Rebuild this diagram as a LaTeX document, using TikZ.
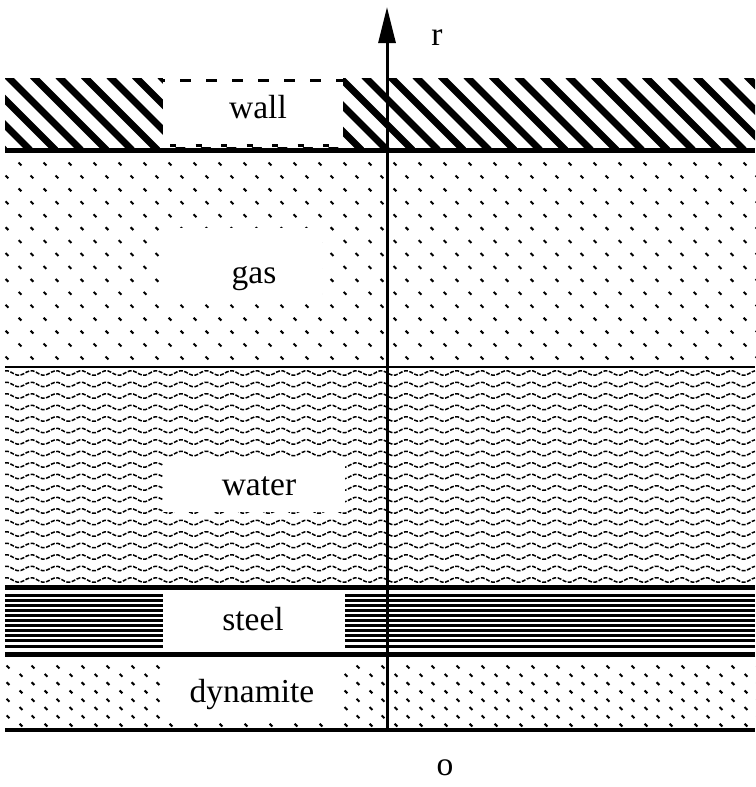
\documentclass[tikz,border=0pt]{standalone}
\usepackage{fontspec}
\setmainfont{Liberation Serif}
\usetikzlibrary{arrows.meta}
\tikzset{
  lbl/.style={anchor=base, inner sep=0pt, font=\fontsize{33.5}{40}\selectfont},
  hatch/.style={line width=7pt, line cap=butt},
  gdot/.style={line width=2pt},
  wave/.style={line width=1.5pt, dash pattern=on 4pt off 1.5pt},
  stripe/.style={line width=3pt},
  thickline/.style={line width=5pt},
  thinline/.style={line width=2pt},
  blank/.style={fill=white, draw=none},
  axis/.style={line width=3pt, -{Triangle[length=36pt,width=17pt]}}
}
\begin{document}
\begin{tikzpicture}[x=1pt,y=-1pt]
\useasboundingbox (0,0) rectangle (755,787);
% ---------- wall hatch
\begin{scope}
  \clip (5,78) rectangle (755,148);
  \foreach \k in {-4,...,30}{
    \draw[hatch] ({7+25.5*\k},76) -- ({7+25.5*\k+74},150);
  }
\end{scope}
\fill[blank] (163,76) rectangle (343,147);
\draw[line width=3pt, dash pattern=on 11pt off 15pt, dash phase=9pt] (163,80) -- (343,80);
\draw[line width=3pt, dash pattern=on 6pt off 19.5pt] (170,145) -- (343,145);
% ---------- gas dots
\foreach \j in {0,...,15}{
  \pgfmathsetmacro\yy{164+12.93*\j}
  \pgfmathtruncatemacro\odd{mod(\j,2)}
  \pgfmathsetmacro\xo{ifthenelse(\odd==1,7,20)}
  \foreach \k in {0,...,30}{
    \pgfmathsetmacro\xx{\xo+25*\k}
    \draw[gdot] (\xx-1.4,\yy-1.4) -- (\xx+1.4,\yy+1.4);
  }
}
\fill[blank] (165,228) rectangle (322,296);
% ---------- water waves
\begin{scope}
  \clip (5,369) rectangle (755,584);
  \foreach \j in {0,...,18}{
    \pgfmathsetmacro\yy{373+11.5*\j}
    \draw[wave] plot[domain=5:755, samples=241, smooth] (\x,{\yy-2.3*sin(14.4*\x)});
  }
\end{scope}
\fill[blank] (163,458) rectangle (345,512);
% ---------- steel stripes
\foreach \k in {0,...,10}{
  \draw[stripe] (5,{595+5.1*\k}) -- (755,{595+5.1*\k});
}
\fill[blank] (163,593) rectangle (345,651);
% ---------- dynamite dots
\foreach \j in {0,...,7}{
  \pgfmathsetmacro\yy{667+8.3*\j}
  \pgfmathtruncatemacro\odd{mod(\j,2)}
  \pgfmathsetmacro\xo{ifthenelse(\odd==1,21,8)}
  \foreach \k in {0,...,30}{
    \pgfmathsetmacro\xx{\xo+25*\k}
    \draw[gdot] (\xx-1.4,\yy-1.4) -- (\xx+1.4,\yy+1.4);
  }
}
\fill[blank] (163,660) rectangle (343,721);
% ---------- horizontal boundaries
\draw[thickline] (5,150) -- (755,150);
\draw[thinline] (5,367) -- (755,367);
\draw[thickline] (5,587.5) -- (755,587.5);
\draw[thickline] (5,654.5) -- (755,654.5);
\draw[line width=4pt] (5,730) -- (755,730);
% ---------- labels
\node[lbl] (wall) at (258,118) {wall};
\node[lbl] (gas) at (254,283) {gas};
\node[lbl] (water) at (259,495) {water};
\node[lbl] (steel) at (253,630) {steel};
\node[lbl] (dyn) at (252,702) {dynamite};
\node[lbl] (r) at (437,45) {r};
\node[lbl] (o) at (445,775) {o};
% ---------- axis
\coordinate (axb) at (387,730);
\coordinate (axt) at (387,7);
\draw[axis] (axb) -- (axt);
\end{tikzpicture}
\end{document}
